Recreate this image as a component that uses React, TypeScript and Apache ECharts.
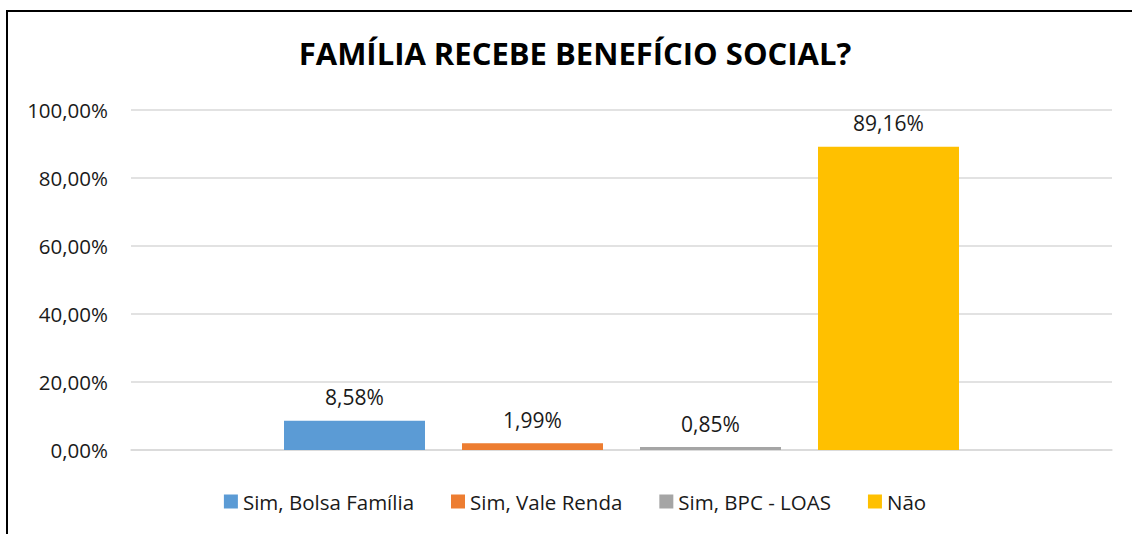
import React, { useEffect, useRef } from "react";
import * as echarts from "echarts";

const title = "FAMÍLIA RECEBE BENEFÍCIO SOCIAL?";
const seriesNames = ["Sim, Bolsa Família", "Sim, Vale Renda", "Sim, BPC - LOAS", "Não"];
const seriesValues = [8.58, 1.99, 0.85, 89.16];
const seriesColors = ["#5B9BD5", "#ED7D31", "#A5A5A5", "#FFC000"];
const categories = [""];

const fmt = (v: number) => v.toFixed(2).replace(".", ",") + "%";
const FONT = "'Open Sans', 'Noto Sans', sans-serif";

export default function App() {
  const ref = useRef<HTMLDivElement>(null);
  useEffect(() => {
    document.body.style.margin = "0";
    const chart = echarts.init(ref.current!, undefined, { renderer: "svg" });
    chart.setOption({
      animation: false,
      backgroundColor: "#fff",
      title: {
        text: title,
        left: "center",
        top: 32,
        textStyle: { fontFamily: FONT, fontWeight: "bold", fontSize: 31, color: "#000" },
      },
      legend: {
        bottom: 17,
        left: "center",
        icon: "rect",
        itemWidth: 14,
        itemHeight: 14,
        itemGap: 37,
        textStyle: { fontFamily: FONT, fontSize: 20.5, color: "#1a1a1a" },
        data: seriesNames,
      },
      grid: { left: 131, right: 38, top: 110, bottom: 84, containLabel: false },
      xAxis: {
        type: "category",
        data: categories,
        axisLine: { show: true, lineStyle: { color: "#D9D9D9", width: 1.5 } },
        axisTick: { show: false },
        axisLabel: { show: false },
      },
      yAxis: {
        type: "value",
        min: 0,
        max: 100,
        interval: 20,
        axisLine: { show: false },
        axisTick: { show: false },
        axisLabel: {
          margin: 23,
          fontFamily: FONT,
          fontSize: 20.5,
          color: "#1a1a1a",
          formatter: (v: number) => fmt(v),
        },
        splitLine: { lineStyle: { color: "#D9D9D9", width: 1.5 } },
      },
      graphic: [
        {
          type: "rect",
          shape: { x: 7, y: 11, width: 1300, height: 700 },
          style: { fill: "none", stroke: "#000", lineWidth: 2 },
          silent: true,
        },
      ],
      series: seriesNames.map((name, i) => ({
        name,
        type: "bar",
        data: [seriesValues[i]],
        barWidth: 141,
        barGap: "26.24%",
        itemStyle: { color: seriesColors[i] },
        label: {
          show: true,
          position: "top",
          distance: 13,
          fontFamily: FONT,
          fontSize: 21,
          color: "#1a1a1a",
          formatter: (p: any) => fmt(p.value),
        },
      })),
    });
    return () => chart.dispose();
  }, []);
  return (
    <div style={{ width: 1132, height: 534, overflow: "hidden", position: "relative" }}>
      <div ref={ref} style={{ width: 1150, height: 534, position: "absolute", left: 0, top: 0 }} />
    </div>
  );
}
